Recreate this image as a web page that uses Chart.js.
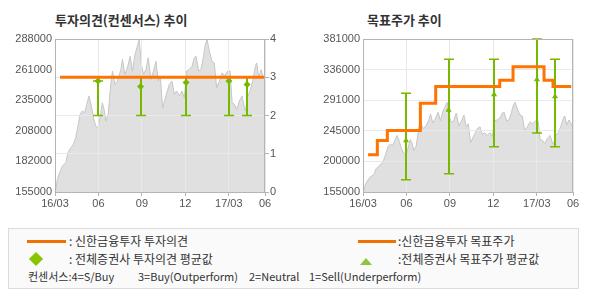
<!DOCTYPE html>
<html>
<head>
<meta charset="utf-8">
<script src="https://cdn.jsdelivr.net/npm/chart.js@4"></script>
<style>
  body { margin: 0; background: #fff; font-family: "Noto Sans CJK KR", sans-serif; }
  #wrap { position: relative; width: 590px; height: 300px; overflow: hidden; }
  .title { position: absolute; top: 10px; font-size: 13px; font-weight: bold; color: #333; white-space: nowrap; }
  canvas { position: absolute; top: 0; }
  #legend { position: absolute; left: 8px; top: 228px; width: 569px; height: 59px; border: 1px solid #dcdcdc; background: #fafafa; }
  .lg { position: absolute; font-size: 12px; color: #333; white-space: pre; line-height: 14px; }
  .cons { position: absolute; font-size: 11px; color: #333; white-space: pre; line-height: 13px; }
  .oline { position: absolute; height: 3px; background: #f07000; }
  .diamond { position: absolute; width: 10px; height: 10px; background: #88c400; transform: rotate(45deg); }
  .tri { position: absolute; width: 0; height: 0; border-left: 6px solid transparent; border-right: 6px solid transparent; border-bottom: 7px solid #8cc63f; }
</style>
</head>
<body>
<div id="wrap">
  <div class="title" style="left:55px">투자의견(컨센서스) 추이</div>
  <div class="title" style="left:367px">목표주가 추이</div>
  <canvas id="opinionChart" width="295" height="220" style="left:0"></canvas>
  <canvas id="targetChart" width="295" height="220" style="left:295px"></canvas>
  <div id="legend">
    <div class="oline" style="left:18px;top:11px;width:39px"></div>
    <div class="lg" style="left:60px;top:5px">: 신한금융투자 투자의견</div>
    <div class="diamond" style="left:22px;top:25px"></div>
    <div class="lg" style="left:60px;top:23px">: 전체증권사 투자의견 평균값</div>
    <div class="oline" style="left:349px;top:11px;width:38px"></div>
    <div class="lg" style="left:389px;top:5px">:신한금융투자 목표주가</div>
    <div class="tri" style="left:351px;top:29px"></div>
    <div class="lg" style="left:389px;top:23px">:전체증권사 목표주가 평균값</div>
    <div class="cons" style="left:19px;top:41px">컨센서스:4=S/Buy</div>
    <div class="cons" style="left:129px;top:41px">3=Buy(Outperform)</div>
    <div class="cons" style="left:240px;top:41px">2=Neutral</div>
    <div class="cons" style="left:300px;top:41px">1=Sell(Underperform)</div>
  </div>
</div>
<script>
// x axis: months since 16/03
const xTickPos = [0, 3, 6, 9, 12, 14.5];
const xTickLabels = ['16/03', '06', '09', '12', '17/03', '06'];

// stock price (gray area)
const priceMonths = [0, 0.05, 0.16, 0.35, 0.51, 0.74, 0.9, 1.09, 1.27, 1.43, 1.59, 1.73, 1.89, 2.05, 2.19,
  2.35, 2.51, 2.65, 2.81, 2.98, 3.11, 3.27, 3.39, 3.51, 3.67, 3.85, 3.97, 4.13, 4.31, 4.55, 4.66, 4.82, 5.0,
  5.19, 5.35, 5.52, 5.65, 5.81, 5.97, 6.11, 6.28, 6.44, 6.62, 6.8, 6.97, 7.13, 7.27, 7.43, 7.66, 7.89, 8.08,
  8.24, 8.39, 8.58, 8.77, 8.93, 9.09, 9.27, 9.46, 9.62, 9.74, 9.92, 10.08, 10.24, 10.38, 10.5, 10.66, 10.84,
  11.0, 11.16, 11.35, 11.54, 11.7, 11.92, 12.09, 12.23, 12.39, 12.55, 12.73, 12.92, 13.08, 13.15, 13.31,
  13.47, 13.65, 13.84, 13.93, 14.07, 14.23, 14.39, 14.5];
const prices = [156000, 157000, 166000, 173000, 177600, 180500, 189200, 193500, 196400, 202200, 212400,
  222500, 225400, 223900, 231200, 238500, 229800, 219700, 212400, 210900, 219700, 232600, 226800, 216600,
  222500, 248500, 260100, 248500, 251400, 261500, 270300, 257200, 263000, 273000, 260100, 274400, 280200,
  287500, 265700, 257200, 261500, 271700, 252800, 260100, 268600, 251400, 255800, 228000, 238500, 248500,
  251400, 239800, 242700, 238500, 242700, 236900, 260100, 261500, 264300, 271700, 273000, 260100, 261500,
  271700, 283300, 287500, 277300, 268600, 267200, 245600, 251400, 258600, 255800, 260100, 260100, 232600,
  231200, 226800, 234100, 238500, 228000, 225400, 238500, 242700, 251400, 264300, 267200, 254300, 261500,
  254300, 257200];

// left chart axes
const opinionPriceLabels = ['155000', '182000', '208000', '235000', '261000', '288000'];
const opinionPriceMin = 155000, opinionPriceMax = 288000;
const opinionScoreTicks = [0, 1, 2, 3, 4];

// 신한금융투자 투자의견
const shOpinionMonths = [0.35, 14.43];
const shOpinion = [3, 3];

// 전체증권사 투자의견 (min / max / avg)
const consMonths = [2.97, 5.91, 9.05, 12.01, 13.26];
const consOpinionMin = [2, 2, 2, 2, 2];
const consOpinionMax = [2.9, 3, 3, 3, 3];
const consOpinionAvg = [2.9, 2.76, 2.86, 2.9, 2.81];

// right chart axes
const targetPriceLabels = ['155000', '200000', '245000', '291000', '336000', '381000'];
const targetPriceMin = 155000, targetPriceMax = 381000;

// 신한금융투자 목표주가 (stepped)
const shTargetMonths = [0.35, 0.99, 1.68, 3.96, 5.02, 9.44, 10.36, 12.5, 13.12, 14.38];
const shTarget = [210000, 231000, 246000, 286000, 311000, 320000, 340000, 320000, 311000, 311000];

// 전체증권사 목표주가 (min / max / avg)
const consTargetMin = [173000, 182000, 222000, 242000, 222000];
const consTargetMax = [301000, 351000, 351000, 381000, 351000];
const consTargetAvg = [231000, 276000, 299000, 321000, 296000];

const green = '#76b900';
const orange = '#ff7300';
const gridColor = '#e9e9e9';
const frameColor = '#b4b4b4';
const tickFont = { family: 'Liberation Sans', size: 11 };
const tickColor = '#555';

const pts = (xs, ys) => xs.map((x, i) => ({ x: x, y: ys[i] }));

// grid over the gray area, then the range bars, then the frame
const rangeBars = {
  id: 'rangeBars',
  afterDatasetDraw(chart, args, opts) {
    if (!chart.data.datasets[args.index].isArea) return;
    const ca = chart.chartArea;
    chart.scales.x.drawGrid(ca);
    chart.scales[opts.gridScale].drawGrid(ca);
    const ctx = chart.ctx, xs = chart.scales.x, ys = chart.scales[opts.yId];
    ctx.save();
    ctx.strokeStyle = green;
    opts.xs.forEach((xv, i) => {
      const px = Math.round(xs.getPixelForValue(xv));
      const yLo = ys.getPixelForValue(opts.mins[i]);
      const yHi = ys.getPixelForValue(opts.maxs[i]);
      ctx.lineWidth = 2;
      ctx.beginPath();
      ctx.moveTo(px, yLo); ctx.lineTo(px, yHi);
      ctx.stroke();
      ctx.lineWidth = 1.5;
      ctx.beginPath();
      ctx.moveTo(px - 5, yLo); ctx.lineTo(px + 5, yLo);
      ctx.moveTo(px - 5, yHi); ctx.lineTo(px + 5, yHi);
      ctx.stroke();
    });
    ctx.restore();
  },
  afterDraw(chart) {
    const ca = chart.chartArea, ctx = chart.ctx;
    ctx.save();
    ctx.strokeStyle = frameColor;
    ctx.lineWidth = 1;
    ctx.strokeRect(Math.round(ca.left) + 0.5, Math.round(ca.top) + 0.5,
      Math.round(ca.right - ca.left) - 1, Math.round(ca.bottom - ca.top));
    ctx.restore();
  }
};

function xScale() {
  return {
    type: 'linear', min: 0, max: 14.5,
    afterBuildTicks: s => { s.ticks = xTickPos.map(v => ({ value: v })); },
    afterFit: s => { s.height = 28; },
    ticks: { callback: (v, i) => xTickLabels[i], autoSkip: false, maxRotation: 0, padding: 1, color: tickColor, font: tickFont },
    grid: { color: gridColor, tickColor: frameColor, tickLength: 4 },
    border: { display: false }
  };
}

function priceScale(labels, min, max, width, showGrid) {
  return {
    position: 'left', min: min, max: max,
    afterBuildTicks: s => { s.ticks = labels.map((t, i) => ({ value: min + i * (max - min) / (labels.length - 1) })); },
    afterFit: s => { s.width = width; },
    ticks: { callback: (v, i) => labels[i], padding: 3, color: tickColor, font: tickFont },
    grid: { display: showGrid, color: gridColor, drawTicks: false },
    border: { display: false }
  };
}

function areaDataset(yId) {
  return {
    isArea: true, order: 10, yAxisID: yId,
    data: pts(priceMonths, prices),
    fill: 'start', backgroundColor: '#e0e0e0', borderColor: '#c6c6c6', borderWidth: 1,
    pointRadius: 0, tension: 0
  };
}

// 투자의견(컨센서스) 추이
new Chart(document.getElementById('opinionChart'), {
  type: 'line',
  data: {
    datasets: [
      areaDataset('y'),
      { yAxisID: 'y1', data: pts(shOpinionMonths, shOpinion), borderColor: orange, borderWidth: 3, pointRadius: 0, fill: false },
      { type: 'scatter', yAxisID: 'y1', data: pts(consMonths, consOpinionAvg), pointStyle: 'rectRot', pointRadius: 3.5,
        backgroundColor: green, borderColor: green, borderWidth: 0 }
    ]
  },
  options: {
    responsive: false, animation: false,
    layout: { padding: { top: 39, left: 0, right: 0, bottom: 0 } },
    plugins: {
      legend: { display: false }, tooltip: { enabled: false },
      rangeBars: { xs: consMonths, mins: consOpinionMin, maxs: consOpinionMax, yId: 'y1', gridScale: 'y1' }
    },
    scales: {
      x: xScale(),
      y: priceScale(opinionPriceLabels, opinionPriceMin, opinionPriceMax, 55, false),
      y1: {
        position: 'right', min: 0, max: 4,
        afterBuildTicks: s => { s.ticks = opinionScoreTicks.map(v => ({ value: v })); },
        afterFit: s => { s.width = 30; },
        ticks: { padding: 1, color: tickColor, font: tickFont },
        grid: { color: gridColor, tickColor: frameColor, tickLength: 4 },
        border: { display: false }
      }
    }
  },
  plugins: [rangeBars]
});

// 목표주가 추이
new Chart(document.getElementById('targetChart'), {
  type: 'line',
  data: {
    datasets: [
      areaDataset('y'),
      { yAxisID: 'y', data: pts(shTargetMonths, shTarget), stepped: true, borderColor: orange, borderWidth: 3, pointRadius: 0, fill: false },
      { type: 'scatter', yAxisID: 'y', data: pts(consMonths, consTargetAvg), pointStyle: 'triangle', pointRadius: 3.5,
        backgroundColor: green, borderColor: green, borderWidth: 0 }
    ]
  },
  options: {
    responsive: false, animation: false,
    layout: { padding: { top: 39, left: 0, right: 17, bottom: 0 } },
    plugins: {
      legend: { display: false }, tooltip: { enabled: false },
      rangeBars: { xs: consMonths, mins: consTargetMin, maxs: consTargetMax, yId: 'y', gridScale: 'y' }
    },
    scales: {
      x: xScale(),
      y: priceScale(targetPriceLabels, targetPriceMin, targetPriceMax, 68, true)
    }
  },
  plugins: [rangeBars]
});
</script>
</body>
</html>
